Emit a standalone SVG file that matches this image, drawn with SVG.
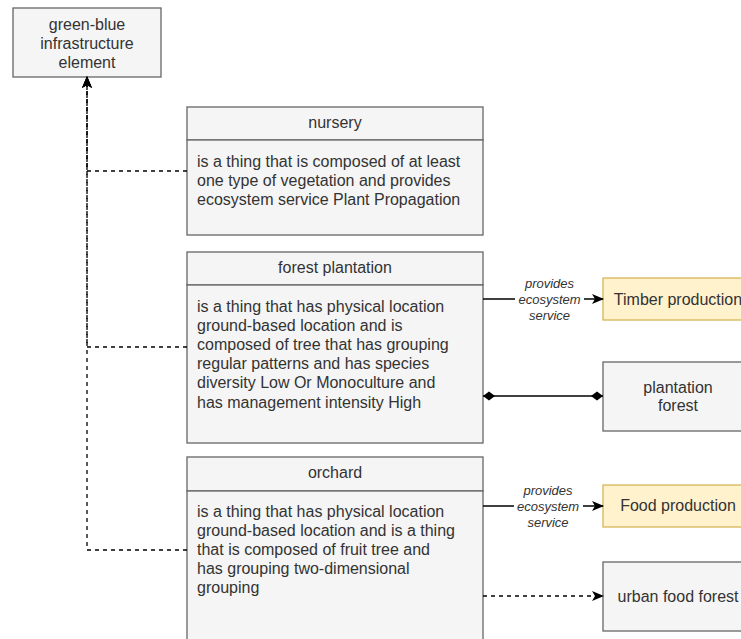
<svg xmlns="http://www.w3.org/2000/svg" width="741" height="639" viewBox="0 0 741 639">
  <defs>
    <style>
      .box { fill: #f5f5f5; stroke: #666666; stroke-width: 1.3; }
      .svc { fill: #fff2cc; stroke: #d6b656; stroke-width: 1.3; }
      .t { font-family: "Liberation Sans", Arial, sans-serif; font-size: 16px; fill: #333333; }
      .c { text-anchor: middle; }
      .lbl { font-family: "Liberation Sans", Arial, sans-serif; font-size: 13px; font-style: italic; fill: #333333; text-anchor: middle; }
      .edge { fill: none; stroke: #000000; stroke-width: 1.3; }
      .dash { stroke-dasharray: 4 4; }
    </style>
    <marker id="arrow" viewBox="0 0 12 10" refX="11" refY="5" markerWidth="12" markerHeight="10" markerUnits="userSpaceOnUse" orient="auto">
      <path d="M0,0 L12,5 L0,10 L3,5 Z" fill="#000000"/>
    </marker>
    <marker id="diamond" viewBox="0 0 12 10" refX="12" refY="5" markerWidth="12" markerHeight="10" markerUnits="userSpaceOnUse" orient="auto-start-reverse">
      <path d="M0,5 L6,0.5 L12,5 L6,9.5 Z" fill="#000000"/>
    </marker>
  </defs>

  <!-- parent class -->
  <g id="green-blue-infrastructure-element">
    <rect class="box" x="13" y="8" width="148" height="69"/>
    <text class="t c" x="87" y="30">green-blue</text>
    <text class="t c" x="87" y="49">infrastructure</text>
    <text class="t c" x="87" y="68">element</text>
  </g>

  <g id="nursery">
    <rect class="box" x="187" y="107" width="296" height="33"/>
    <text class="t c" x="335" y="128">nursery</text>
    <rect class="box" x="187" y="140" width="296" height="95"/>
    <text class="t" x="197" y="166.5">is a thing that is composed of at least</text>
    <text class="t" x="197" y="185.5">one type of vegetation and provides</text>
    <text class="t" x="197" y="204.5">ecosystem service Plant Propagation</text>
  </g>

  <g id="forest-plantation">
    <rect class="box" x="187" y="252" width="296" height="33"/>
    <text class="t c" x="335" y="273">forest plantation</text>
    <rect class="box" x="187" y="285" width="296" height="158"/>
    <text class="t" x="197" y="311.5">is a thing that has physical location</text>
    <text class="t" x="197" y="330.7">ground-based location and is</text>
    <text class="t" x="197" y="349.9">composed of tree that has grouping</text>
    <text class="t" x="197" y="369.1">regular patterns and has species</text>
    <text class="t" x="197" y="388.3">diversity Low Or Monoculture and</text>
    <text class="t" x="197" y="407.5">has management intensity High</text>
  </g>

  <g id="orchard">
    <rect class="box" x="187" y="457" width="296" height="34"/>
    <text class="t c" x="335" y="478">orchard</text>
    <rect class="box" x="187" y="491" width="296" height="170"/>
    <text class="t" x="197" y="516.5">is a thing that has physical location</text>
    <text class="t" x="197" y="535.7">ground-based location and is a thing</text>
    <text class="t" x="197" y="554.9">that is composed of fruit tree and</text>
    <text class="t" x="197" y="574.1">has grouping two-dimensional</text>
    <text class="t" x="197" y="593.3">grouping</text>
  </g>

  <g id="timber-production">
    <rect class="svc" x="603" y="278" width="150" height="42"/>
    <text class="t c" x="678" y="305">Timber production</text>
  </g>

  <g id="plantation-forest">
    <rect class="box" x="603" y="362" width="150" height="69"/>
    <text class="t c" x="678" y="393">plantation</text>
    <text class="t c" x="678" y="411">forest</text>
  </g>

  <g id="food-production">
    <rect class="svc" x="603" y="485" width="150" height="42"/>
    <text class="t c" x="678" y="511">Food production</text>
  </g>

  <g id="urban-food-forest">
    <rect class="box" x="603" y="562" width="150" height="69"/>
    <text class="t c" x="678" y="601.5">urban food forest</text>
  </g>

  <!-- connectors -->
  <g id="connectors">
    <path class="edge dash" d="M187,171 H87 V77" marker-end="url(#arrow)"/>
    <path class="edge dash" d="M187,347 H87 V77" marker-end="url(#arrow)"/>
    <path class="edge dash" d="M187,550 H87 V77" marker-end="url(#arrow)"/>

    <path class="edge" d="M483,299 H603" marker-end="url(#arrow)"/>
    <rect x="515" y="276" width="69" height="46" fill="#ffffff"/>
    <text class="lbl" x="549.5" y="288">provides</text>
    <text class="lbl" x="549.5" y="304">ecosystem</text>
    <text class="lbl" x="549.5" y="319.5">service</text>

    <path class="edge" d="M483,396 H603" marker-start="url(#diamond)" marker-end="url(#diamond)"/>

    <path class="edge" d="M483,506 H603" marker-end="url(#arrow)"/>
    <rect x="514" y="483" width="69" height="46" fill="#ffffff"/>
    <text class="lbl" x="548" y="494.5">provides</text>
    <text class="lbl" x="548" y="510.5">ecosystem</text>
    <text class="lbl" x="548" y="526.5">service</text>

    <path class="edge dash" d="M483,596 H603" marker-end="url(#arrow)"/>
  </g>
</svg>
